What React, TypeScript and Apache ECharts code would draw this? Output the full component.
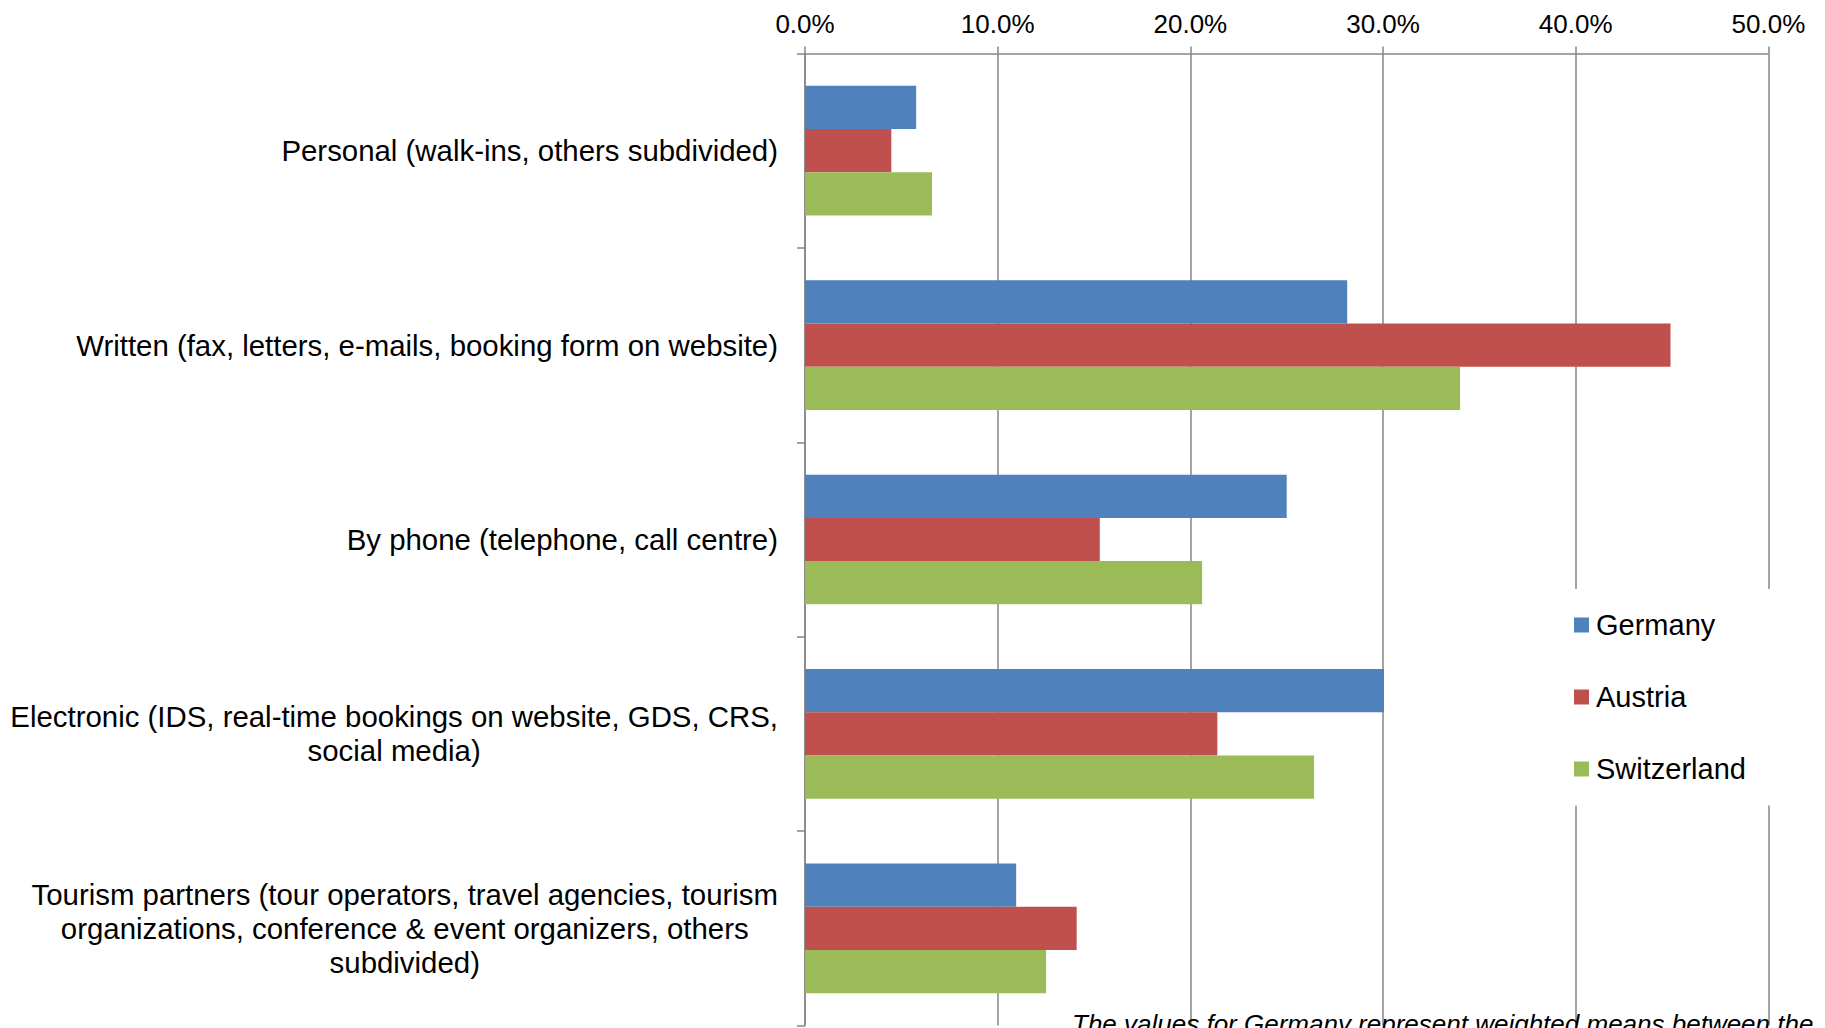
import React, { useEffect, useRef } from "react";
import * as echarts from "echarts";

const categories: string[] = [
  "Personal (walk-ins, others subdivided)",
  "Written (fax, letters, e-mails, booking form on website)",
  "By phone (telephone, call centre)",
  "Electronic (IDS, real-time bookings on website, GDS, CRS,\nsocial media)",
  "Tourism partners (tour operators, travel agencies, tourism\norganizations, conference & event organizers, others\nsubdivided)",
];

const seriesNames: string[] = ["Germany", "Austria", "Switzerland"];
const germany: number[] = [5.77, 28.14, 25.0, 30.05, 10.96];
const austria: number[] = [4.48, 44.92, 15.3, 21.4, 14.1];
const switzerland: number[] = [6.59, 34.0, 20.61, 26.42, 12.51];
const colors: string[] = ["#4F81BD", "#C0504D", "#9BBB59"];

const xMin = 0;
const xMax = 50;
const xInterval = 10;

const footnote = "The values for Germany represent weighted means between the";

const FONT = "'Liberation Sans', Arial, Helvetica, sans-serif";
const GRID_COLOR = "#868686";

export default function App() {
  const ref = useRef<HTMLDivElement>(null);

  useEffect(() => {
    if (!ref.current) return;
    const chart = echarts.init(ref.current, undefined, { renderer: "svg" });
    const data = [germany, austria, switzerland];
    chart.setOption({
      animation: false,
      backgroundColor: "#ffffff",
      textStyle: { fontFamily: FONT },
      grid: { left: 805, right: 56.6, top: 53.5, bottom: 2.5, containLabel: false },
      xAxis: {
        type: "value",
        position: "top",
        min: xMin,
        max: xMax,
        interval: xInterval,
        axisLine: { show: true, lineStyle: { color: GRID_COLOR, width: 1.5 } },
        axisTick: { show: true, length: 7, lineStyle: { color: GRID_COLOR, width: 1.5 } },
        splitLine: { show: true, lineStyle: { color: GRID_COLOR, width: 1.5 } },
        axisLabel: {
          margin: 17,
          color: "#000",
          fontSize: 26,
          fontFamily: FONT,
          formatter: (v: number) => v.toFixed(1) + "%",
        },
      },
      yAxis: {
        type: "category",
        inverse: true,
        data: categories,
        axisLine: { show: true, lineStyle: { color: GRID_COLOR, width: 1.5 } },
        axisTick: { show: true, length: 8, lineStyle: { color: GRID_COLOR, width: 1.5 } },
        splitLine: { show: false },
        axisLabel: {
          interval: 0,
          margin: 27,
          align: "right",
          formatter: (v: string) =>
            v
              .split("\n")
              .map((l) => `{c|${l}}`)
              .join("\n"),
          rich: {
            c: {
              align: "center",
              fontSize: 29.4,
              lineHeight: 34,
              color: "#000",
              fontFamily: FONT,
            },
          },
        },
      },
      legend: {
        orient: "vertical",
        left: 1560,
        top: 589,
        padding: [21.5, 45, 22, 14],
        backgroundColor: "#ffffff",
        itemWidth: 15,
        itemHeight: 15,
        itemGap: 43,
        icon: "rect",
        data: seriesNames,
        textStyle: { fontSize: 29, lineHeight: 29, color: "#000", fontFamily: FONT, padding: [0, 0, 0, 2] },
      },
      series: seriesNames.map((name, i) => ({
        name,
        type: "bar",
        data: data[i],
        barGap: "0%",
        barCategoryGap: "33.3%",
        itemStyle: { color: colors[i] },
      })),
      graphic: [
        {
          type: "text",
          left: 1072,
          top: 1011,
          z: 10,
          style: {
            text: footnote,
            fontSize: 26,
            fontStyle: "italic",
            fontFamily: FONT,
            fill: "#000",
          },
        },
      ],
    });
    return () => chart.dispose();
  }, []);

  return (
    <div
      ref={ref}
      style={{ position: "absolute", left: 0, top: 0, width: 1825, height: 1028 }}
    />
  );
}
